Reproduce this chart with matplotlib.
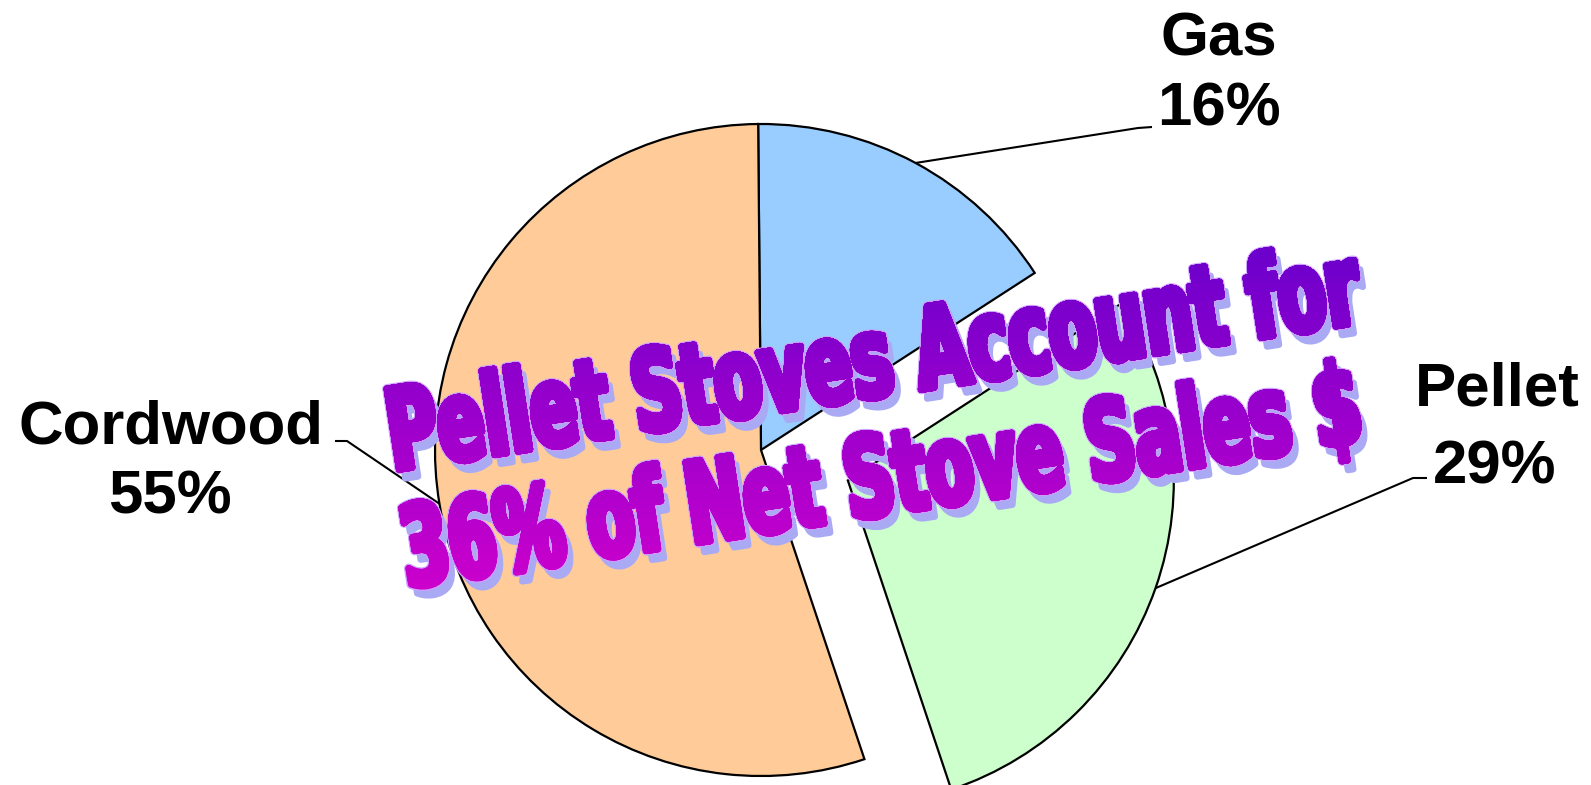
import matplotlib
matplotlib.use("Agg")
import matplotlib.pyplot as plt
import numpy as np
from matplotlib.patheffects import AbstractPathEffect
from matplotlib.transforms import Affine2D, IdentityTransform, TransformedPath
from matplotlib.path import Path
from matplotlib.textpath import TextPath
from matplotlib.font_manager import FontProperties

# data
categories = ["Gas", "Pellet", "Cordwood"]
shares = [16, 29, 55]
slice_colors = ["#99ccff", "#ccffcc", "#ffcc99"]
title_lines = ["Pellet Stoves Account for", "36% of Net Stove Sales $"]

W, H = 1591, 785

wa_font = FontProperties(family="DejaVu Sans", weight="bold")
CAP_UNITS = TextPath((0, 0), "H", size=100, prop=wa_font).get_extents().y1


class WordArt(AbstractPathEffect):
    """stretched text with vertical gradient, outline and drop shadow"""

    def __init__(self, width_px, cap_px, top_y, bottom_y, c_top, c_bottom,
                 shadow=(6, -9), shadow_color="#a9a9f4", edge="#cc9eff",
                 bold=6.5, n=40):
        super().__init__()
        self.width_px, self.cap_px = width_px, cap_px
        self.top_y, self.bottom_y = top_y, bottom_y
        self.c_top = np.array(matplotlib.colors.to_rgb(c_top))
        self.c_bottom = np.array(matplotlib.colors.to_rgb(c_bottom))
        self.shadow, self.shadow_color, self.edge = shadow, shadow_color, edge
        self.bold, self.n = bold, n

    def draw_path(self, renderer, gc, tpath, affine, rgbFace=None):
        ext = tpath.get_extents()
        m = affine.get_matrix()
        s0 = np.sqrt(abs(np.linalg.det(m[:2, :2])))
        sx = (self.width_px - self.bold) / (ext.width * s0)
        sy = (self.cap_px - self.bold) / (CAP_UNITS * s0)
        cx = 0.5 * (ext.x0 + ext.x1)
        aff = Affine2D().translate(-cx, 0).scale(sx, sy).translate(cx, 0) + affine
        px2pt = 1.0 / renderer.points_to_pixels(1.0)
        bold_pt = self.bold * px2pt

        # shadow
        g = renderer.new_gc()
        g.copy_properties(gc)
        g.set_joinstyle("round")
        g.set_linewidth(bold_pt)
        g.set_foreground(self.shadow_color)
        sh = aff + Affine2D().translate(*self.shadow)
        renderer.draw_path(g, tpath, sh, matplotlib.colors.to_rgb(self.shadow_color))
        g.restore()

        # thin light outline
        g = renderer.new_gc()
        g.copy_properties(gc)
        g.set_joinstyle("round")
        g.set_linewidth(bold_pt + 3.0 * px2pt)
        g.set_foreground(self.edge)
        renderer.draw_path(g, tpath, aff, matplotlib.colors.to_rgb(self.edge))
        g.restore()

        # gradient fill, layered half planes from bottom to top
        for i in range(self.n):
            t = i / self.n
            col = tuple(self.c_bottom + (self.c_top - self.c_bottom) * (t + 0.5 / self.n))
            g = renderer.new_gc()
            g.copy_properties(gc)
            g.set_joinstyle("round")
            g.set_linewidth(bold_pt)
            g.set_foreground(col)
            if i > 0:
                yb = self.bottom_y + t * (self.top_y - self.bottom_y)
                clip = Path([(-5000, yb), (9000, yb), (9000, 9000), (-5000, 9000), (-5000, yb)],
                            closed=True)
                g.set_clip_path(TransformedPath(clip, IdentityTransform()))
            renderer.draw_path(g, tpath, aff, col)
            g.restore()


fig = plt.figure(figsize=(W / 100, H / 100), dpi=100)
ax = fig.add_axes([0, 0, 1, 1])

center = (761, H - 450)
wedges, _ = ax.pie(shares, colors=slice_colors, startangle=90.5, counterclock=False,
                   radius=326, center=center, explode=[0, 92, 0],
                   wedgeprops=dict(edgecolor="black", linewidth=1.6))
ax.set_xlim(0, W)
ax.set_ylim(0, H)
ax.set_aspect("equal")
ax.axis("off")

# leader elbows and label spots (pixel coords from top)
elbows = {"Gas": [(1138, 128), (1152, 127)],
          "Pellet": [(1413, 478), (1427, 478)],
          "Cordwood": [(347, 441), (335, 441)]}
name_pos = {"Gas": (1219, 55), "Pellet": (1497, 405), "Cordwood": (171, 443)}
pct_pos = {"Gas": (1219, 125), "Pellet": (1495, 483), "Cordwood": (170, 513)}

lab_font = dict(family="Liberation Sans", fontweight="bold", fontsize=44.5,
                ha="center", va="baseline", color="black")
for w, cat, val in zip(wedges, categories, shares):
    mid = np.deg2rad(0.5 * (w.theta1 + w.theta2))
    ex = w.center[0] + w.r * np.cos(mid)
    ey = w.center[1] + w.r * np.sin(mid)
    xs = [ex] + [p[0] for p in elbows[cat]]
    ys = [ey] + [H - p[1] for p in elbows[cat]]
    ax.plot(xs, ys, color="black", lw=1.5, solid_capstyle="butt")
    nx_, ny_ = name_pos[cat]
    ax.text(nx_, H - ny_, cat, **lab_font)
    px_, py_ = pct_pos[cat]
    ax.text(px_, H - py_, f"{val}%", **lab_font)

# word art headline
wa_anchor = [(879, 396), (887, 514)]
wa_width = [982, 967]
for line, (x, y), wd in zip(title_lines, wa_anchor, wa_width):
    fig.text(x / W, 1 - y / H, line, ha="center", va="baseline", rotation=8.7,
             rotation_mode="anchor", fontproperties=wa_font, fontsize=50, zorder=5,
             path_effects=[WordArt(wd, 88, H - 230, H - 590, "#6600cc", "#cc00cc")])

fig.savefig("out.png", dpi=100)
